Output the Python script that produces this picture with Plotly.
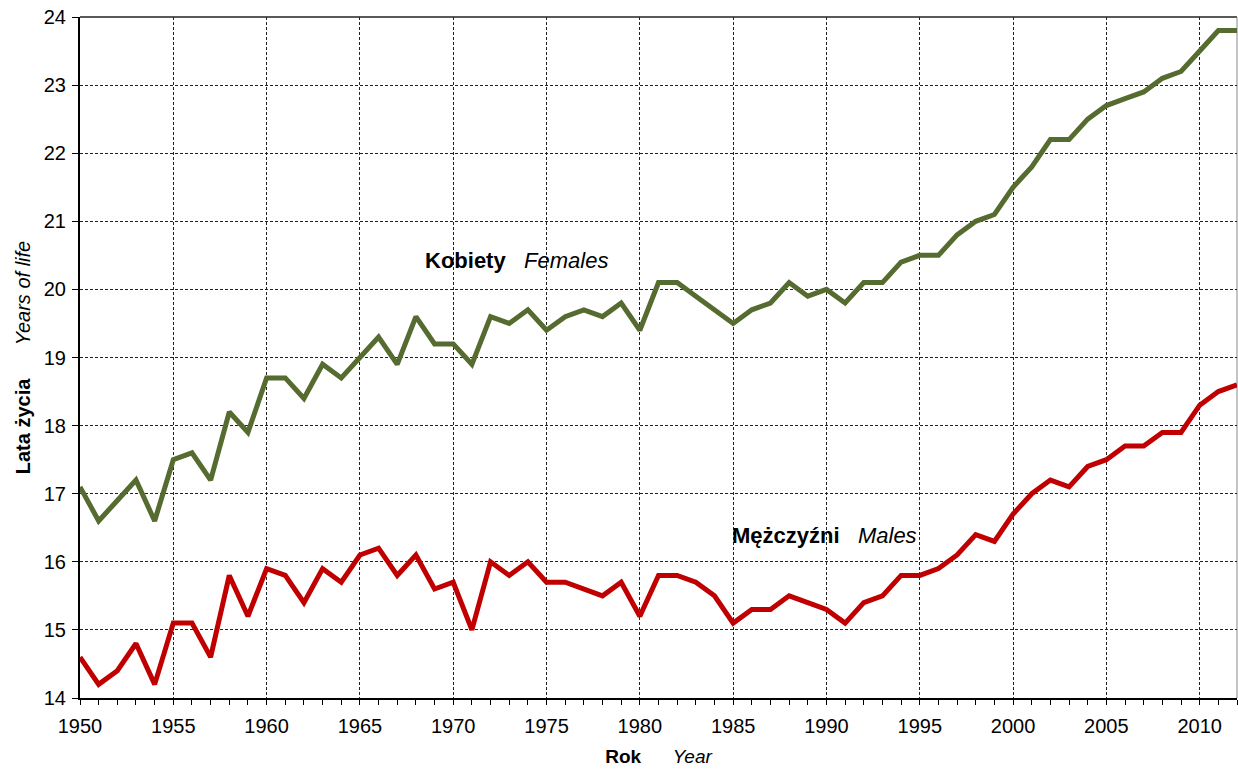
import plotly.graph_objects as go

years = list(range(1950, 2013))
females = [17.1, 16.6, 16.9, 17.2, 16.6, 17.5, 17.6, 17.2, 18.2, 17.9,
           18.7, 18.7, 18.4, 18.9, 18.7, 19.0, 19.3, 18.9, 19.6, 19.2,
           19.2, 18.9, 19.6, 19.5, 19.7, 19.4, 19.6, 19.7, 19.6, 19.8,
           19.4, 20.1, 20.1, 19.9, 19.7, 19.5, 19.7, 19.8, 20.1, 19.9,
           20.0, 19.8, 20.1, 20.1, 20.4, 20.5, 20.5, 20.8, 21.0, 21.1,
           21.5, 21.8, 22.2, 22.2, 22.5, 22.7, 22.8, 22.9, 23.1, 23.2,
           23.5, 23.8, 23.8]
males = [14.6, 14.2, 14.4, 14.8, 14.2, 15.1, 15.1, 14.6, 15.8, 15.2,
         15.9, 15.8, 15.4, 15.9, 15.7, 16.1, 16.2, 15.8, 16.1, 15.6,
         15.7, 15.0, 16.0, 15.8, 16.0, 15.7, 15.7, 15.6, 15.5, 15.7,
         15.2, 15.8, 15.8, 15.7, 15.5, 15.1, 15.3, 15.3, 15.5, 15.4,
         15.3, 15.1, 15.4, 15.5, 15.8, 15.8, 15.9, 16.1, 16.4, 16.3,
         16.7, 17.0, 17.2, 17.1, 17.4, 17.5, 17.7, 17.7, 17.9, 17.9,
         18.3, 18.5, 18.6]
x_ticks = list(range(1950, 2011, 5))
y_ticks = list(range(14, 25))

FONT = "Liberation Sans, Arial, sans-serif"

fig = go.Figure()
fig.add_trace(go.Scatter(x=years, y=females, mode="lines",
                         line=dict(color="#556B2F", width=5), showlegend=False))
fig.add_trace(go.Scatter(x=years, y=males, mode="lines",
                         line=dict(color="#C00000", width=5), showlegend=False))

fig.update_layout(
    width=1238, height=769,
    margin=dict(l=80, r=1, t=17, b=71),
    plot_bgcolor="white", paper_bgcolor="white",
    font=dict(family=FONT, size=20, color="black"),
    xaxis=dict(range=[1950, 2012], tickvals=x_ticks, ticks="outside", ticklen=5,
               tickcolor="black", showline=True, linecolor="black", linewidth=2,
               showgrid=True, gridcolor="#222222", griddash="3px,2px", gridwidth=1,
               minor=dict(dtick=1, ticks="outside", ticklen=5, tickcolor="black", showgrid=False),
               tickfont=dict(size=20), zeroline=False, automargin=False,
               ticklabelstandoff=4,
               title=dict(text="<b>Rok</b>      <i>Year</i>", font=dict(size=19), standoff=14)),
    yaxis=dict(range=[14, 24], tickvals=y_ticks, ticks="outside", ticklen=6,
               tickcolor="black", showline=True, linecolor="black", linewidth=2,
               showgrid=True, gridcolor="#222222", griddash="3px,2px", gridwidth=1,
               tickfont=dict(size=20), zeroline=False, automargin=False,
               ticklabelstandoff=2,
               title=dict(text="<b>Lata życia</b>      <i>Years of life</i>", font=dict(size=20), standoff=8)),
    annotations=[
        dict(x=1973.4, y=20.42, xref="x", yref="y", showarrow=False,
             text="<b>Kobiety</b>   <i>Females</i>", font=dict(size=22), xanchor="center"),
        dict(x=1989.9, y=16.38, xref="x", yref="y", showarrow=False,
             text="<b>Mężczyźni</b>   <i>Males</i>", font=dict(size=22), xanchor="center"),
    ],
    shapes=[
        dict(type="line", xref="paper", yref="paper", x0=0, x1=1, y0=1, y1=1,
             line=dict(color="#222222", width=1.5), layer="below"),
        dict(type="line", xref="paper", yref="paper", x0=1, x1=1, y0=0, y1=1,
             line=dict(color="#888888", width=1), layer="below"),
    ],
)

fig.write_html("out.html", config={"displayModeBar": False},
               post_script="document.body.style.margin='0';document.body.style.overflow='hidden';")
